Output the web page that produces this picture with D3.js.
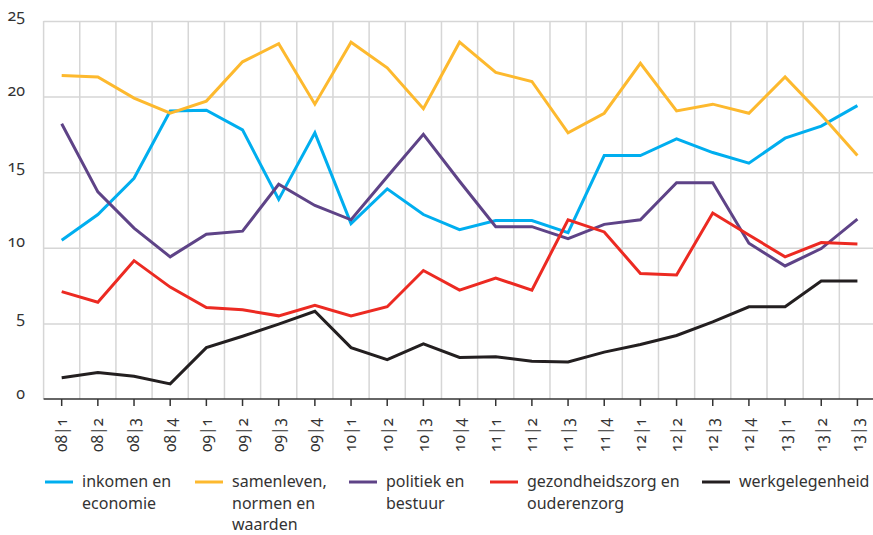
<!DOCTYPE html>
<html>
<head>
<meta charset="utf-8">
<script src="https://cdn.jsdelivr.net/npm/d3@7"></script>
<style>
  body { margin: 0; background: #fff; }
  text { font-family: "Noto Sans", "Open Sans", sans-serif; fill: #333; font-variant-numeric: oldstyle-nums; }
  .grid line { stroke: #d6d6d6; stroke-width: 1.5; }
  .grid path { display: none; }
</style>
</head>
<body>
<div id="chart"></div>
<script>
// quarters
var quarters = ["08|1","08|2","08|3","08|4","09|1","09|2","09|3","09|4",
                "10|1","10|2","10|3","10|4","11|1","11|2","11|3","11|4",
                "12|1","12|2","12|3","12|4","13|1","13|2","13|3"];

var yTicks = [0, 5, 10, 15, 20, 25];

var inkomen = [10.5,12.2,14.6,19.05,19.1,17.8,13.2,17.6,11.6,13.9,12.2,11.2,11.8,11.8,11.0,16.1,16.1,17.2,16.3,15.6,17.25,18.05,19.4];
var samenleven = [21.4,21.3,19.9,18.9,19.7,22.3,23.5,19.5,23.6,21.9,19.2,23.6,21.6,21.0,17.6,18.9,22.2,19.05,19.5,18.9,21.3,18.8,16.1];
var politiek = [18.2,13.7,11.3,9.4,10.9,11.1,14.2,12.8,11.85,14.7,17.5,14.4,11.4,11.4,10.6,11.55,11.85,14.3,14.3,10.3,8.8,9.95,11.9];
var gezondheid = [7.1,6.4,9.15,7.4,6.05,5.9,5.5,6.2,5.5,6.1,8.5,7.2,8.0,7.2,11.85,11.05,8.3,8.2,12.3,10.85,9.4,10.35,10.25];
var werk = [1.4,1.75,1.5,1.0,3.4,4.15,4.95,5.8,3.4,2.6,3.65,2.75,2.8,2.5,2.45,3.1,3.6,4.2,5.1,6.1,6.1,7.8,7.8];

var seriesNames = [["inkomen en", "economie"],
                   ["samenleven,", "normen en", "waarden"],
                   ["politiek en", "bestuur"],
                   ["gezondheidszorg en", "ouderenzorg"],
                   ["werkgelegenheid"]];
var seriesValues = [inkomen, samenleven, politiek, gezondheid, werk];
var seriesColors = ["#00aeef", "#fdb92e", "#5e4387", "#ec2a22", "#231f20"];

// legend column starts
var legendX = [45, 195, 349, 490, 702];

var W = 873, H = 535;
var margin = {top: 21, left: 43.6},
    plotRight = 875.5,
    plotBottom = 399;

var svg = d3.select("#chart").append("svg")
    .attr("width", W)
    .attr("height", H);

var x = d3.scaleBand()
    .domain(quarters)
    .range([margin.left, plotRight]);

var y = d3.scaleLinear()
    .domain([0, 25])
    .range([plotBottom, margin.top]);

// horizontal gridlines
svg.append("g")
    .attr("class", "grid")
    .attr("transform", "translate(" + margin.left + ",0)")
    .call(d3.axisLeft(y).tickValues(yTicks.slice(1)).tickSize(-(plotRight - margin.left)).tickFormat(""));

// vertical gridlines between quarters
svg.append("g")
    .attr("class", "grid")
    .selectAll("line")
    .data(quarters)
    .enter().append("line")
    .attr("x1", function(d) { return x(d); })
    .attr("x2", function(d) { return x(d); })
    .attr("y1", y(25))
    .attr("y2", plotBottom);

// y labels
svg.append("g")
    .selectAll("text")
    .data(yTicks)
    .enter().append("text")
    .attr("x", 25)
    .attr("y", function(d) { return y(d) - 0.5; })
    .attr("text-anchor", "end")
    .style("font-size", "16px")
    .text(function(d) { return d; });

// x axis
var xAxis = svg.append("g")
    .attr("transform", "translate(0," + plotBottom + ")")
    .call(d3.axisBottom(x).tickSize(7).tickPadding(12));
xAxis.select(".domain")
    .attr("d", "M" + margin.left + ",0H" + W)
    .attr("stroke", "#333")
    .attr("stroke-width", 1.5);
xAxis.selectAll(".tick line").attr("stroke", "#333").attr("stroke-width", 1.5);
xAxis.selectAll(".tick text")
    .style("font-size", "15.5px")
    .style("font-family", "\"Noto Sans\", sans-serif")
    .attr("fill", "#333")
    .attr("transform", "rotate(-90)")
    .attr("x", -19)
    .attr("y", 0)
    .attr("dy", "0.35em")
    .attr("text-anchor", "end");

// lines
var line = d3.line()
    .x(function(d, i) { return x(quarters[i]) + x.bandwidth() / 2; })
    .y(function(d) { return y(d); });

svg.append("g")
    .selectAll("path")
    .data(seriesValues)
    .enter().append("path")
    .attr("fill", "none")
    .attr("stroke", function(d, i) { return seriesColors[i]; })
    .attr("stroke-width", 3)
    .attr("stroke-linejoin", "miter")
    .attr("d", line);

// legend
var legend = svg.append("g")
    .selectAll("g")
    .data(seriesNames)
    .enter().append("g")
    .attr("transform", function(d, i) { return "translate(" + legendX[i] + ",0)"; });

legend.append("line")
    .attr("x1", 0).attr("x2", 28)
    .attr("y1", 482).attr("y2", 482)
    .attr("stroke", function(d, i) { return seriesColors[i]; })
    .attr("stroke-width", 3);

legend.append("text")
    .attr("x", 37)
    .attr("y", 487)
    .style("font-size", "16px")
    .selectAll("tspan")
    .data(function(d) { return d; })
    .enter().append("tspan")
    .attr("x", 37)
    .attr("dy", function(d, i) { return i ? 21.5 : 0; })
    .text(function(d) { return d; });
</script>
</body>
</html>
